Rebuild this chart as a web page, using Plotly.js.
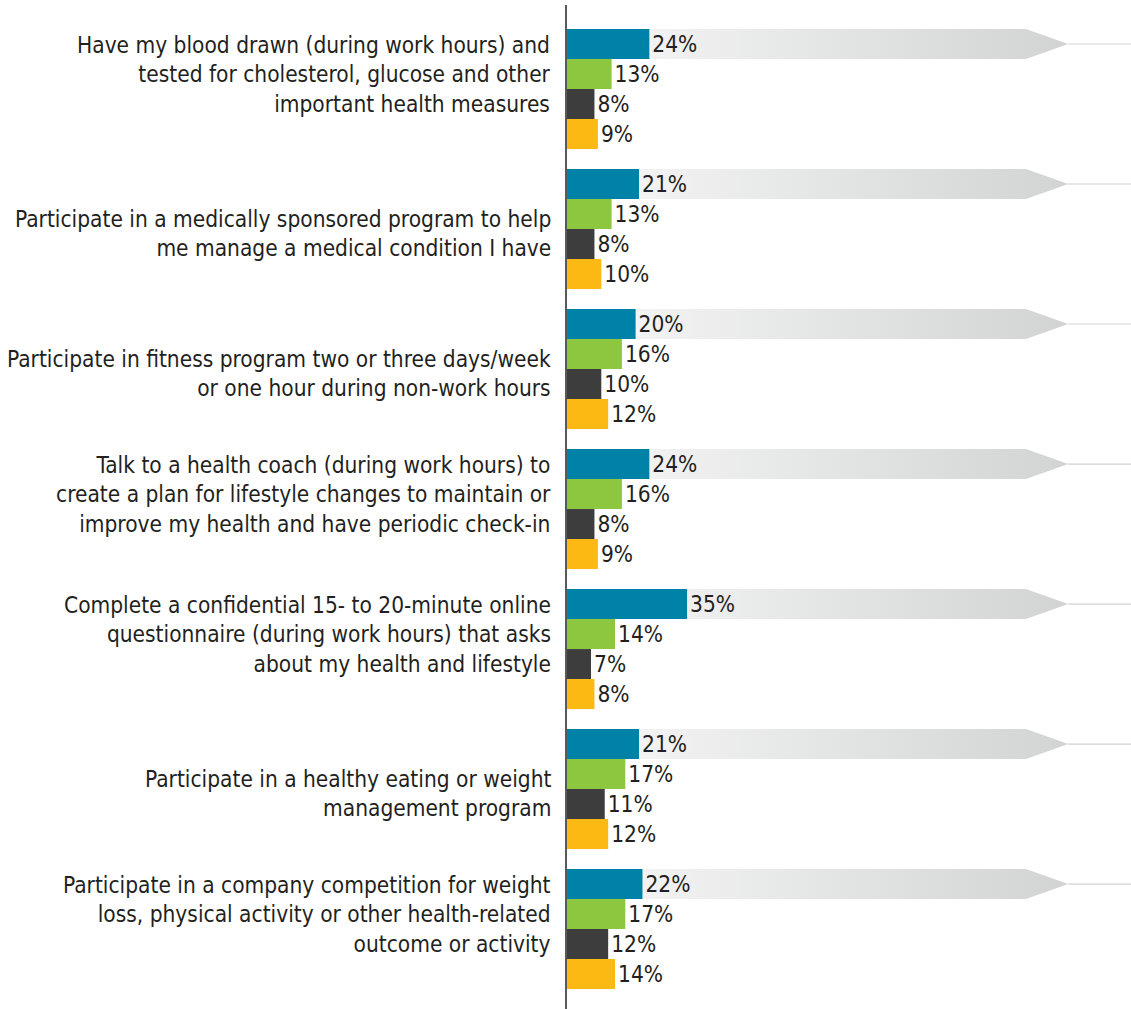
<!DOCTYPE html>
<html>
<head>
<meta charset="utf-8">
<script src="https://cdn.plot.ly/plotly-3.0.1.min.js"></script>
<style>html,body{margin:0;padding:0;background:#fff;}#chart{width:1131px;height:1009px;}</style>
</head>
<body>
<div id="chart"></div>
<script>
const categories = [
  "Have my blood drawn (during work hours) and<br>tested for cholesterol, glucose and other<br>important health measures",
  "Participate in a medically sponsored program to help<br>me manage a medical condition I have",
  "Participate in fitness program two or three days/week<br>or one hour during non-work hours",
  "Talk to a health coach (during work hours) to<br>create a plan for lifestyle changes to maintain or<br>improve my health and have periodic check-in",
  "Complete a confidential 15- to 20-minute online<br>questionnaire (during work hours) that asks<br>about my health and lifestyle",
  "Participate in a healthy eating or weight<br>management program",
  "Participate in a company competition for weight<br>loss, physical activity or other health-related<br>outcome or activity"
];
const seriesNames = ["Series 1", "Series 2", "Series 3", "Series 4"];
const series1 = [24, 21, 20, 24, 35, 21, 22];
const series2 = [13, 13, 16, 16, 14, 17, 17];
const series3 = [8, 8, 10, 8, 7, 11, 12];
const series4 = [9, 10, 12, 9, 8, 12, 14];

const colors = ["#0082a8", "#8dc63f", "#3d3d3e", "#fcb813"];
const FONT = "'DejaVu Sans Condensed', 'Liberation Sans Narrow', sans-serif";
const XMAX = 164.4;
const BARGAP = 1/7;
const NSER = 4;
const barW = (1 - BARGAP) / NSER;
const blueOffset = -(1 - BARGAP) / 2 + barW / 2;
const ARROW_BODY_END = 133.8, ARROW_TIP = 146.1;

const idx = categories.map((_, i) => i);
const traces = [];

// decorative gradient arrows behind first series
idx.forEach(i => {
  const c = i + blueOffset, h = barW / 2;
  traces.push({
    type: 'scatter', mode: 'lines', xaxis: 'x', yaxis: 'y',
    x: [0, ARROW_BODY_END, ARROW_TIP, ARROW_BODY_END, 0, 0],
    y: [c - h, c - h, c, c + h, c + h, c - h],
    fill: 'toself', line: {width: 0, color: 'rgba(0,0,0,0)'},
    fillcolor: '#e4e4e4',
    fillgradient: {type: 'horizontal', start: 0, stop: ARROW_TIP,
      colorscale: [[0, '#f8f8f8'], [1, '#d2d3d3']]},
    hoverinfo: 'skip', showlegend: false
  });
  traces.push({
    type: 'scatter', mode: 'lines', xaxis: 'x', yaxis: 'y',
    x: [ARROW_TIP, XMAX], y: [c, c],
    line: {width: 1.2, color: '#d0d1d1'},
    hoverinfo: 'skip', showlegend: false
  });
});

[series1, series2, series3, series4].forEach((vals, s) => {
  traces.push({
    type: 'bar', orientation: 'h', xaxis: 'x2', yaxis: 'y',
    name: seriesNames[s], x: vals, y: idx,
    marker: {color: colors[s], line: {width: 0}},
    texttemplate: '%{x}%', textposition: 'outside', constraintext: 'none',
    cliponaxis: false,
    textfont: {family: FONT, size: 22.5, color: '#231f20'},
    showlegend: false
  });
});

const annotations = categories.map((t, i) => {
  const lines = t.split('<br>').length;
  return {
    xref: 'paper', yref: 'y', x: 0, y: i, xanchor: 'right', yanchor: 'middle',
    xshift: -14, yshift: lines === 3 ? 15 : -4,
    text: t, align: 'right', showarrow: false,
    font: {family: FONT, size: 22.5, color: '#231f20'}
  };
});

const layout = {
  width: 1131, height: 1009,
  margin: {l: 567, r: 0, t: 5, b: 0, pad: 0},
  paper_bgcolor: '#ffffff', plot_bgcolor: '#ffffff',
  barmode: 'group', bargap: BARGAP, bargroupgap: 0,
  showlegend: false,
  xaxis: {range: [0, XMAX], visible: false, fixedrange: true},
  xaxis2: {range: [0, XMAX], overlaying: 'x', visible: false, fixedrange: true},
  yaxis: {range: [6.571, -0.6], showticklabels: false, ticks: '', showgrid: false,
    zeroline: false, showline: true, linecolor: '#58595b', linewidth: 2, fixedrange: true},
  annotations: annotations
};

Plotly.newPlot('chart', traces, layout, {displayModeBar: false, staticPlot: true});
</script>
</body>
</html>
